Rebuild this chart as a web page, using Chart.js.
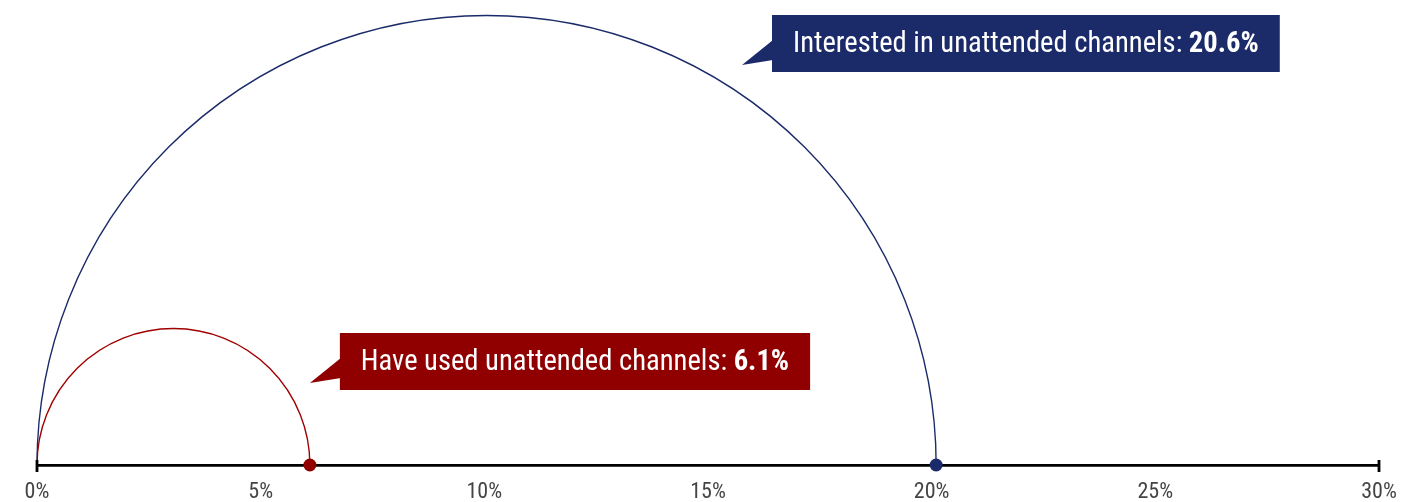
<!DOCTYPE html>
<html>
<head>
<meta charset="utf-8">
<script src="https://cdn.jsdelivr.net/npm/chart.js@4"></script>
<style>
  html, body { margin: 0; padding: 0; background: #fff; }
  #wrap { width: 1428px; height: 502px; }
</style>
</head>
<body>
<div id="wrap"><canvas id="arcChart"></canvas></div>
<script>
// series shown on the chart
const seriesNames = ['Have used unattended channels', 'Interested in unattended channels'];
const labelValues = ['6.1%', '20.6%'];      // text in the callouts
const plotValues = [6.1, 20.1];              // where the dots sit on the axis
const seriesColors = ['#900000', '#1b2b69'];
const arcColors = ['#a00000', '#1b2b69'];
const tickValues = [0, 5, 10, 15, 20, 25, 30];

const FONT = "'Roboto Condensed', 'Liberation Sans Narrow', Roboto, sans-serif";
const CALLOUT_SIZE = 28.6;

// callout placement: tail tip in axis units (x) and pixels above the axis (y)
const calloutTips = [
  { x: 6.1, up: 82 },
  { x: 15.76, up: 400 }
];

const arcPlugin = {
  id: 'arcs',
  beforeDatasetsDraw(chart) {
    const { ctx, scales: { x, y } } = chart;
    const base = y.getPixelForValue(0);
    ctx.save();
    plotValues.forEach((v, i) => {
      const x0 = x.getPixelForValue(0);
      const x1 = x.getPixelForValue(v);
      ctx.beginPath();
      ctx.arc((x0 + x1) / 2, base, (x1 - x0) / 2, Math.PI, 2 * Math.PI);
      ctx.strokeStyle = arcColors[i];
      ctx.lineWidth = 1.4;
      ctx.stroke();
    });
    // end caps on the axis
    ctx.strokeStyle = '#000';
    ctx.lineWidth = 2.8;
    [x.min, x.max].forEach(v => {
      const px = x.getPixelForValue(v);
      ctx.beginPath();
      ctx.moveTo(px, base - 5);
      ctx.lineTo(px, base + 7);
      ctx.stroke();
    });
    ctx.restore();
  },
  afterDatasetsDraw(chart) {
    const { ctx, scales: { x, y } } = chart;
    const base = y.getPixelForValue(0);
    ctx.save();
    seriesNames.forEach((name, i) => {
      const tipX = x.getPixelForValue(calloutTips[i].x);
      const tipY = base - calloutTips[i].up;
      const left = tipX + 30, top = tipY - 50;
      const h = 57, padX = 21;

      const first = name + ': ';
      ctx.font = CALLOUT_SIZE + 'px ' + FONT;
      const w1 = ctx.measureText(first).width;
      ctx.font = 'bold ' + CALLOUT_SIZE + 'px ' + FONT;
      const w2 = ctx.measureText(labelValues[i]).width;
      const w = w1 + w2 + padX * 2;

      ctx.fillStyle = seriesColors[i];
      ctx.fillRect(left, top, w, h);
      ctx.beginPath();
      ctx.moveTo(left + 1, top + 25);
      ctx.lineTo(tipX, tipY);
      ctx.lineTo(left + 1, top + 45);
      ctx.closePath();
      ctx.fill();

      ctx.fillStyle = '#fff';
      ctx.textBaseline = 'middle';
      ctx.font = CALLOUT_SIZE + 'px ' + FONT;
      ctx.fillText(first, left + padX, top + h / 2 + 1);
      ctx.font = 'bold ' + CALLOUT_SIZE + 'px ' + FONT;
      ctx.fillText(labelValues[i], left + padX + w1, top + h / 2 + 1);
    });
    ctx.restore();
  }
};

new Chart(document.getElementById('arcChart'), {
  type: 'scatter',
  data: {
    datasets: seriesNames.map((name, i) => ({
      label: name,
      data: [{ x: plotValues[i], y: 0 }],
      pointRadius: 6.5,
      pointHoverRadius: 6.5,
      pointBackgroundColor: seriesColors[i],
      pointBorderWidth: 0,
      clip: false
    }))
  },
  options: {
    responsive: true,
    maintainAspectRatio: false,
    animation: false,
    layout: { padding: { left: 37, right: 49, top: 0, bottom: 0 } },
    plugins: { legend: { display: false }, tooltip: { enabled: false } },
    scales: {
      x: {
        type: 'linear',
        min: 0,
        max: 30,
        afterBuildTicks: s => { s.ticks = tickValues.map(v => ({ value: v })); },
        afterFit: s => { s.height = 37; },
        grid: { display: true, drawOnChartArea: false, drawTicks: false },
        border: { display: true, color: '#000', width: 2.8 },
        ticks: {
          padding: 14,
          color: '#444',
          font: { family: FONT, size: 22 },
          callback: v => v + '%'
        }
      },
      y: { display: false, min: 0, max: 10.4 }
    }
  },
  plugins: [arcPlugin]
});
</script>
</body>
</html>
